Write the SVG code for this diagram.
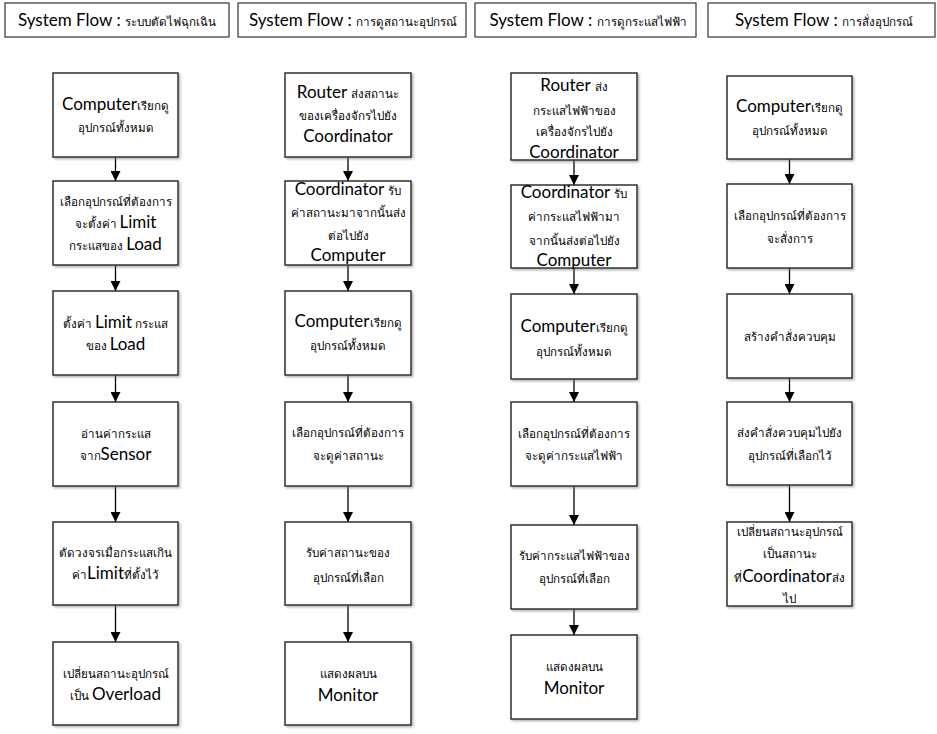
<svg xmlns="http://www.w3.org/2000/svg" width="937" height="734" viewBox="0 0 937 734">
<defs>
<filter id="sh" x="-5%" y="-5%" width="115%" height="115%"><feDropShadow dx="1.5" dy="1.5" stdDeviation="0.8" flood-color="#777" flood-opacity="0.6"/></filter>
<marker id="ar" viewBox="0 0 10 10" refX="10" refY="5" markerWidth="11" markerHeight="10" markerUnits="userSpaceOnUse" orient="auto"><path d="M0,0L10,5L0,10z" fill="#000"/></marker>
</defs>
<style>
text{font-family:Lato,"Noto Sans","DejaVu Sans",sans-serif;text-anchor:middle;fill:#000}
.t{font-size:11.6px}
.l{font-size:17px}
.hd{fill:#fff;stroke:#444;stroke-width:1.3}
.bx{fill:#fff;stroke:#222;stroke-width:1.4;filter:url(#sh)}
.cn line{stroke:#000;stroke-width:1.3;marker-end:url(#ar)}
</style>
<rect width="937" height="734" fill="#fff"/>

<g id="header1"><rect class="hd" x="5" y="3" width="224" height="34"/><text class="l" x="117" y="26">System Flow : <tspan class="t">ระบบตัดไฟฉุกเฉิน</tspan></text></g>
<g id="header2"><rect class="hd" x="238" y="3" width="228" height="34"/><text class="l" x="353" y="26">System Flow : <tspan class="t">การดูสถานะอุปกรณ์</tspan></text></g>
<g id="header3"><rect class="hd" x="475" y="3" width="221" height="34"/><text class="l" x="588" y="26">System Flow : <tspan class="t">การดูกระแสไฟฟ้า</tspan></text></g>
<g id="header4"><rect class="hd" x="708" y="3" width="227" height="34"/><text class="l" x="824" y="26">System Flow : <tspan class="t">การสั่งอุปกรณ์</tspan></text></g>

<g class="cn" id="connectors">
<line x1="115.5" y1="157" x2="115.5" y2="181"/>
<line x1="115.5" y1="265" x2="115.5" y2="291"/>
<line x1="115.5" y1="375" x2="115.5" y2="402"/>
<line x1="115.5" y1="486" x2="115.5" y2="522"/>
<line x1="115.5" y1="605" x2="115.5" y2="642"/>
<line x1="348" y1="157" x2="348" y2="181"/>
<line x1="348" y1="265" x2="348" y2="291"/>
<line x1="348" y1="375" x2="348" y2="402"/>
<line x1="348" y1="486" x2="348" y2="522"/>
<line x1="348" y1="605" x2="348" y2="642"/>
<line x1="574" y1="160" x2="574" y2="185"/>
<line x1="574" y1="268" x2="574" y2="294"/>
<line x1="574" y1="379" x2="574" y2="402"/>
<line x1="574" y1="486" x2="574" y2="525"/>
<line x1="574" y1="609" x2="574" y2="635"/>
<line x1="789.5" y1="159" x2="789.5" y2="184"/>
<line x1="789.5" y1="268" x2="789.5" y2="294"/>
<line x1="789.5" y1="378" x2="789.5" y2="402"/>
<line x1="789.5" y1="485" x2="789.5" y2="522"/>
</g>

<!-- Column 1 -->
<g id="c1n1"><rect class="bx" x="53" y="73" width="125" height="84"/><text class="l" x="115.5" y="110">Computer<tspan class="t">เรียกดู</tspan></text><text class="t" x="115.5" y="132">อุปกรณ์ทั้งหมด</text></g>
<g id="c1n2"><rect class="bx" x="53" y="181" width="125" height="84"/><text class="t" x="115.5" y="206">เลือกอุปกรณ์ที่ต้องการ</text><text class="t" x="115.5" y="228">จะตั้งค่า <tspan class="l">Limit</tspan></text><text class="t" x="115.5" y="250">กระแสของ <tspan class="l">Load</tspan></text></g>
<g id="c1n3"><rect class="bx" x="53" y="291" width="125" height="84"/><text class="t" x="115.5" y="328">ตั้งค่า <tspan class="l">Limit</tspan> กระแส</text><text class="t" x="115.5" y="350">ของ <tspan class="l">Load</tspan></text></g>
<g id="c1n4"><rect class="bx" x="53" y="402" width="125" height="84"/><text class="t" x="115.5" y="438">อ่านค่ากระแส</text><text class="t" x="115.5" y="460">จาก<tspan class="l">Sensor</tspan></text></g>
<g id="c1n5"><rect class="bx" x="53" y="522" width="125" height="83"/><text class="t" x="115.5" y="557">ตัดวงจรเมื่อกระแสเกิน</text><text class="t" x="115.5" y="579">ค่า<tspan class="l">Limit</tspan>ที่ตั้งไว้</text></g>
<g id="c1n6"><rect class="bx" x="53" y="642" width="125" height="83"/><text class="t" x="115.5" y="678">เปลี่ยนสถานะอุปกรณ์</text><text class="t" x="115.5" y="700">เป็น <tspan class="l">Overload</tspan></text></g>

<!-- Column 2 -->
<g id="c2n1"><rect class="bx" x="285" y="73" width="126" height="84"/><text class="l" x="348" y="98">Router <tspan class="t">ส่งสถานะ</tspan></text><text class="t" x="348" y="120">ของเครื่องจักรไปยัง</text><text class="l" x="348" y="142">Coordinator</text></g>
<g id="c2n2"><rect class="bx" x="285" y="181" width="126" height="84"/><text class="l" x="348" y="195">Coordinator <tspan class="t">รับ</tspan></text><text class="t" x="348" y="217">ค่าสถานะมาจากนั้นส่ง</text><text class="t" x="348" y="240">ต่อไปยัง</text><text class="l" x="348" y="261">Computer</text></g>
<g id="c2n3"><rect class="bx" x="285" y="291" width="126" height="84"/><text class="l" x="348" y="327">Computer<tspan class="t">เรียกดู</tspan></text><text class="t" x="348" y="350">อุปกรณ์ทั้งหมด</text></g>
<g id="c2n4"><rect class="bx" x="285" y="402" width="126" height="84"/><text class="t" x="348" y="437">เลือกอุปกรณ์ที่ต้องการ</text><text class="t" x="348" y="460">จะดูค่าสถานะ</text></g>
<g id="c2n5"><rect class="bx" x="285" y="522" width="126" height="83"/><text class="t" x="348" y="557">รับค่าสถานะของ</text><text class="t" x="348" y="582">อุปกรณ์ที่เลือก</text></g>
<g id="c2n6"><rect class="bx" x="285" y="642" width="126" height="83"/><text class="t" x="348" y="678">แสดงผลบน</text><text class="l" x="348" y="701">Monitor</text></g>

<!-- Column 3 -->
<g id="c3n1"><rect class="bx" x="511" y="73" width="126" height="87"/><text class="l" x="574" y="91">Router <tspan class="t">ส่ง</tspan></text><text class="t" x="574" y="115">กระแสไฟฟ้าของ</text><text class="t" x="574" y="136">เครื่องจักรไปยัง</text><text class="l" x="574" y="158">Coordinator</text></g>
<g id="c3n2"><rect class="bx" x="511" y="185" width="126" height="83"/><text class="l" x="574" y="198">Coordinator <tspan class="t">รับ</tspan></text><text class="t" x="574" y="221">ค่ากระแสไฟฟ้ามา</text><text class="t" x="574" y="245">จากนั้นส่งต่อไปยัง</text><text class="l" x="574" y="266">Computer</text></g>
<g id="c3n3"><rect class="bx" x="511" y="294" width="126" height="85"/><text class="l" x="574" y="332">Computer<tspan class="t">เรียกดู</tspan></text><text class="t" x="574" y="356">อุปกรณ์ทั้งหมด</text></g>
<g id="c3n4"><rect class="bx" x="511" y="402" width="126" height="84"/><text class="t" x="574" y="438">เลือกอุปกรณ์ที่ต้องการ</text><text class="t" x="574" y="460">จะดูค่ากระแสไฟฟ้า</text></g>
<g id="c3n5"><rect class="bx" x="511" y="525" width="126" height="84"/><text class="t" x="574" y="560">รับค่ากระแสไฟฟ้าของ</text><text class="t" x="574" y="583">อุปกรณ์ที่เลือก</text></g>
<g id="c3n6"><rect class="bx" x="511" y="635" width="126" height="84"/><text class="t" x="574" y="671">แสดงผลบน</text><text class="l" x="574" y="694">Monitor</text></g>

<!-- Column 4 -->
<g id="c4n1"><rect class="bx" x="727" y="76" width="125" height="83"/><text class="l" x="789.5" y="112">Computer<tspan class="t">เรียกดู</tspan></text><text class="t" x="789.5" y="135">อุปกรณ์ทั้งหมด</text></g>
<g id="c4n2"><rect class="bx" x="727" y="184" width="125" height="84"/><text class="t" x="789.5" y="220">เลือกอุปกรณ์ที่ต้องการ</text><text class="t" x="789.5" y="243">จะสั่งการ</text></g>
<g id="c4n3"><rect class="bx" x="727" y="294" width="125" height="84"/><text class="t" x="789.5" y="341">สร้างคำสั่งควบคุม</text></g>
<g id="c4n4"><rect class="bx" x="727" y="402" width="125" height="83"/><text class="t" x="789.5" y="437">ส่งคำสั่งควบคุมไปยัง</text><text class="t" x="789.5" y="460">อุปกรณ์ที่เลือกไว้</text></g>
<g id="c4n5"><rect class="bx" x="727" y="522" width="125" height="84"/><text class="t" x="789.5" y="536">เปลี่ยนสถานะอุปกรณ์</text><text class="t" x="789.5" y="558">เป็นสถานะ</text><text class="t" x="789.5" y="582">ที่<tspan class="l">Coordinator</tspan>ส่ง</text><text class="t" x="789.5" y="603">ไป</text></g>
</svg>
